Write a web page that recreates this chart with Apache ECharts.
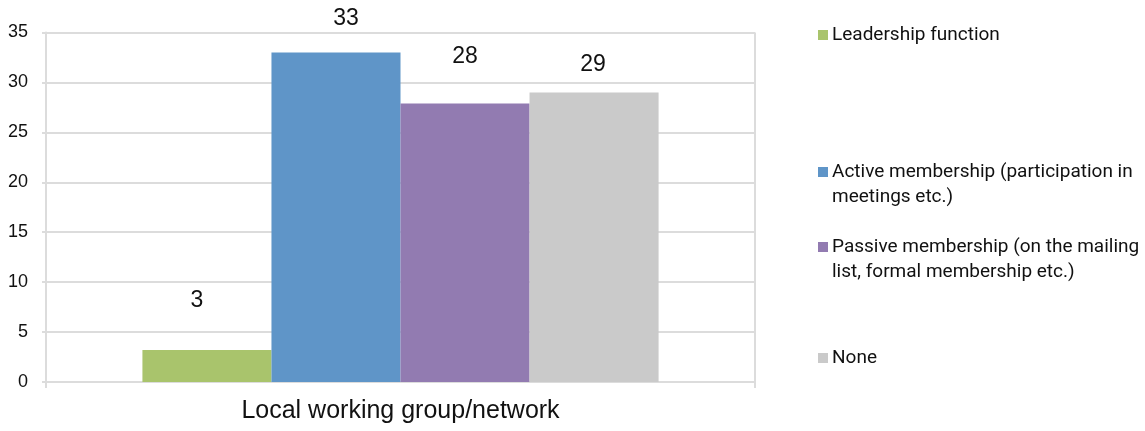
<!DOCTYPE html>
<html>
<head>
<meta charset="utf-8">
<script src="https://cdn.jsdelivr.net/npm/echarts@6/dist/echarts.min.js"></script>
<style>
html,body{margin:0;padding:0;background:#fff;}
#chart{width:1145px;height:431px;}
</style>
</head>
<body>
<div id="chart"></div>
<script>
const categories = ['Local working group/network'];
const seriesNames = [
  'Leadership function',
  'Active membership (participation in meetings etc.)',
  'Passive membership (on the mailing list, formal membership etc.)',
  'None'
];
const legendTexts = [
  'Leadership function',
  'Active membership (participation in\nmeetings etc.)',
  'Passive membership (on the mailing\nlist, formal membership etc.)',
  'None'
];
const seriesValues = [3.2, 33, 27.9, 29];
const valueLabels = ['3', '33', '28', '29'];

const colors = ['#a9c46c', '#5f95c8', '#927bb1', '#cacaca'];
const labelDistances = [38, 22, 35, 16];
const labelShiftX = [-10, 10, 0, -1];
const legendTops = [22.5, 159.5, 234.5, 345.5];
const legendLines = [1, 2, 2, 1];

const chart = echarts.init(document.getElementById('chart'));

const series = seriesNames.map((name, i) => ({
  name: name,
  type: 'bar',
  data: [seriesValues[i]],
  barGap: '0%',
  barCategoryGap: '27.2%',
  itemStyle: { color: colors[i] },
  label: {
    show: true,
    position: 'top',
    distance: labelDistances[i],
    offset: [labelShiftX[i], 0],
    formatter: () => valueLabels[i],
    color: '#111',
    fontSize: 23,
    fontFamily: 'Liberation Sans'
  }
}));

const legends = seriesNames.map((name, i) => {
  const two = legendLines[i] === 2;
  return {
    orient: 'vertical',
    left: 818,
    top: legendTops[i],
    data: [{ name: name, icon: two ? 'path://M0,0h10v10h-10z M0,35h0.01' : 'path://M0,0h10v10h-10z' }],
    itemWidth: 10,
    itemHeight: two ? 35 : 10,
    itemGap: 4,
    formatter: () => legendTexts[i],
    selectedMode: false,
    textStyle: {
      color: '#111',
      fontSize: 19,
      lineHeight: 25,
      fontFamily: 'Roboto',
      padding: [0, 0, 0, -1]
    },
    padding: 0
  };
});

chart.setOption({
  animation: false,
  backgroundColor: '#fff',
  color: colors,
  legend: legends,
  grid: { left: 46, right: 390, top: 32.5, bottom: 49, containLabel: false },
  xAxis: {
    type: 'category',
    data: categories,
    axisLine: { show: true, lineStyle: { color: '#dcdcdc', width: 2 } },
    axisTick: { show: true, length: 6, lineStyle: { color: '#dcdcdc', width: 2 } },
    splitLine: { show: true, lineStyle: { color: '#dcdcdc', width: 2 } },
    axisLabel: { color: '#111', fontSize: 25, margin: 17, fontFamily: 'Liberation Sans' }
  },
  yAxis: {
    type: 'value',
    min: 0,
    max: 35,
    interval: 5,
    axisLine: { show: true, lineStyle: { color: '#dcdcdc', width: 2 } },
    axisTick: { show: true, length: 4, lineStyle: { color: '#dcdcdc', width: 2 } },
    splitLine: { show: true, lineStyle: { color: '#dcdcdc', width: 2 } },
    axisLabel: { color: '#111', fontSize: 18, margin: 18, fontFamily: 'Liberation Sans' }
  },
  series: series
});
</script>
</body>
</html>
